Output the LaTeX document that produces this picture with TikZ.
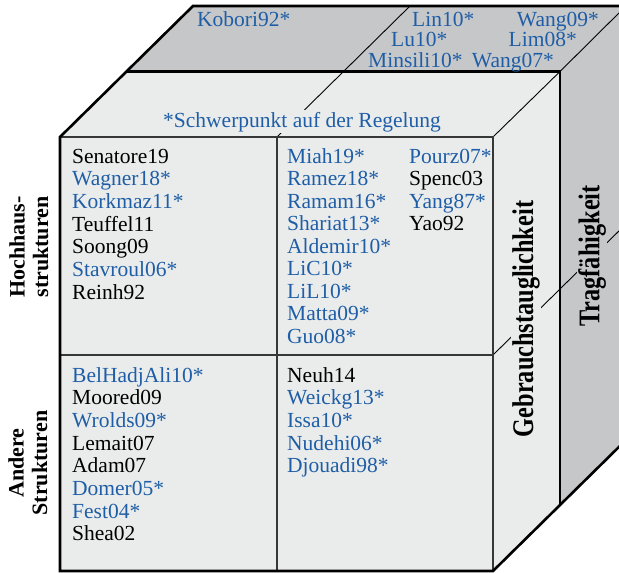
\documentclass[tikz,border=0pt]{standalone}
\usepackage{fontspec}
\setmainfont{Liberation Serif}
\usepackage{graphicx}
\definecolor{citeblue}{RGB}{31,94,166}
\definecolor{facelight}{RGB}{234,236,236}
\definecolor{facedark}{RGB}{198,199,201}
\definecolor{gridgray}{RGB}{55,55,55}
\begin{document}
\begin{tikzpicture}[x=1pt,y=-1pt,
  outline/.style={line width=2.6pt, line join=miter},
  midline/.style={line width=2.2pt},
  cellline/.style={line width=1.3pt, draw=gridgray},
  edgeline/.style={line width=0.9pt},
  entry/.style={font=\fontsize{21.5}{22.7}\selectfont, inner sep=0pt, anchor=base west},
  rowlabel/.style={font=\fontsize{22}{23.5}\selectfont\bfseries, align=center, rotate=90, inner sep=0pt},
  sidelabel/.style={font=\fontsize{30}{32}\selectfont\bfseries, rotate=90, inner sep=1.2pt},
  note/.style={font=\fontsize{21.5}{22.7}\selectfont, text=citeblue, inner sep=1.5pt}
]
\useasboundingbox (0,0) rectangle (619,573);
\clip (0,0) rectangle (619,573);

% corners of the front face, the middle layer and the back layer
\coordinate (fTL) at (60,137);   \coordinate (fTR) at (493,137);
\coordinate (fBL) at (60,571);   \coordinate (fBR) at (493,571);
\coordinate (mTL) at (127,71.5); \coordinate (mTR) at (560,71.5);
\coordinate (mBR) at (560,505.5);
\coordinate (bTL) at (193,6);    \coordinate (bTR) at (626,6);
\coordinate (bBR) at (626,440);
% dividers
\coordinate (fTM) at (277,137);  \coordinate (fBM) at (277,571);
\coordinate (fLM) at (60,355);   \coordinate (fRM) at (493,355);
\coordinate (bTM) at (410,6);    \coordinate (bRM) at (626,224);

% faces
\fill[facelight] (fTL) rectangle (fBR);
\fill[facelight] (fTL) -- (mTL) -- (mTR) -- (fTR) -- cycle;
\fill[facedark]  (mTL) -- (bTL) -- (bTR) -- (mTR) -- cycle;
\fill[facelight] (fTR) -- (mTR) -- (mBR) -- (fBR) -- cycle;
\fill[facedark]  (mTR) -- (bTR) -- (bBR) -- (mBR) -- cycle;

% edges
\draw[edgeline] (fTR) -- (mTR) -- (bTR);
\draw[edgeline] (fTM) -- (bTM);
\draw[edgeline] (fRM) -- (bRM);
\draw[cellline] (fTL) -- (fTR) -- (fBR);
\draw[cellline] (fTM) -- (fBM);
\draw[cellline] (fLM) -- (fRM);
\draw[midline] (mTL) -- (mTR) -- (mBR);
\draw[outline] (bTR) -- (bTL) -- (fTL) -- (fBL) -- (fBR) -- (bBR);

% labels on the faces
\node[note, fill=facelight, anchor=base west] (focus) at (161.5,127) {*Schwerpunkt auf der Regelung};
\node[sidelabel, fill=facelight] (serv) at (526,319) {\scalebox{0.81}[1]{Gebrauchstauglichkeit}};
\node[sidelabel, fill=facedark] (load) at (592,256) {\scalebox{0.81}[1]{Tragfähigkeit}};
\node[rowlabel] (high) at (29,247) {Hochhaus-\\strukturen};
\node[rowlabel] (other) at (28,463) {Andere\\Strukturen};

% top face
\node[entry, text=citeblue] (kob) at (197,26) {Kobori92*};
\node[entry, text=citeblue] (lin) at (412,26) {Lin10*};
\node[entry, text=citeblue] (lu) at (391,46.5) {Lu10*};
\node[entry, text=citeblue] (mins) at (368,67) {Minsili10*};
\node[entry, text=citeblue, anchor=base east] (w09) at (599,26) {Wang09*};
\node[entry, text=citeblue, anchor=base east] (l08) at (577,46.5) {Lim08*};
\node[entry, text=citeblue, anchor=base east] (w07) at (554,67) {Wang07*};

% front face cells
\foreach \t/\c [count=\i from 0] in {Senatore19/black, Wagner18*/citeblue,
    Korkmaz11*/citeblue, Teuffel11/black, Soong09/black, Stavroul06*/citeblue, Reinh92/black}
  \node[entry, text=\c] (lt\i) at (72,{163+22.67*\i}) {\t};
\foreach \t/\c [count=\i from 0] in {Miah19*/citeblue, Ramez18*/citeblue, Ramam16*/citeblue,
    Shariat13*/citeblue, Aldemir10*/citeblue, LiC10*/citeblue, LiL10*/citeblue,
    Matta09*/citeblue, Guo08*/citeblue}
  \node[entry, text=\c] (rta\i) at (287,{163+22.5*\i}) {\t};
\foreach \t/\c [count=\i from 0] in {Pourz07*/citeblue, Spenc03/black, Yang87*/citeblue, Yao92/black}
  \node[entry, text=\c] (rtb\i) at (409,{163+22.5*\i}) {\t};
\foreach \t/\c [count=\i from 0] in {BelHadjAli10*/citeblue, Moored09/black, Wrolds09*/citeblue,
    Lemait07/black, Adam07/black, Domer05*/citeblue, Fest04*/citeblue, Shea02/black}
  \node[entry, text=\c] (lb\i) at (72,{382+22.7*\i}) {\t};
\foreach \t/\c [count=\i from 0] in {Neuh14/black, Weickg13*/citeblue, Issa10*/citeblue,
    Nudehi06*/citeblue, Djouadi98*/citeblue}
  \node[entry, text=\c] (rb\i) at (287,{382+22.7*\i}) {\t};
\end{tikzpicture}
\end{document}
